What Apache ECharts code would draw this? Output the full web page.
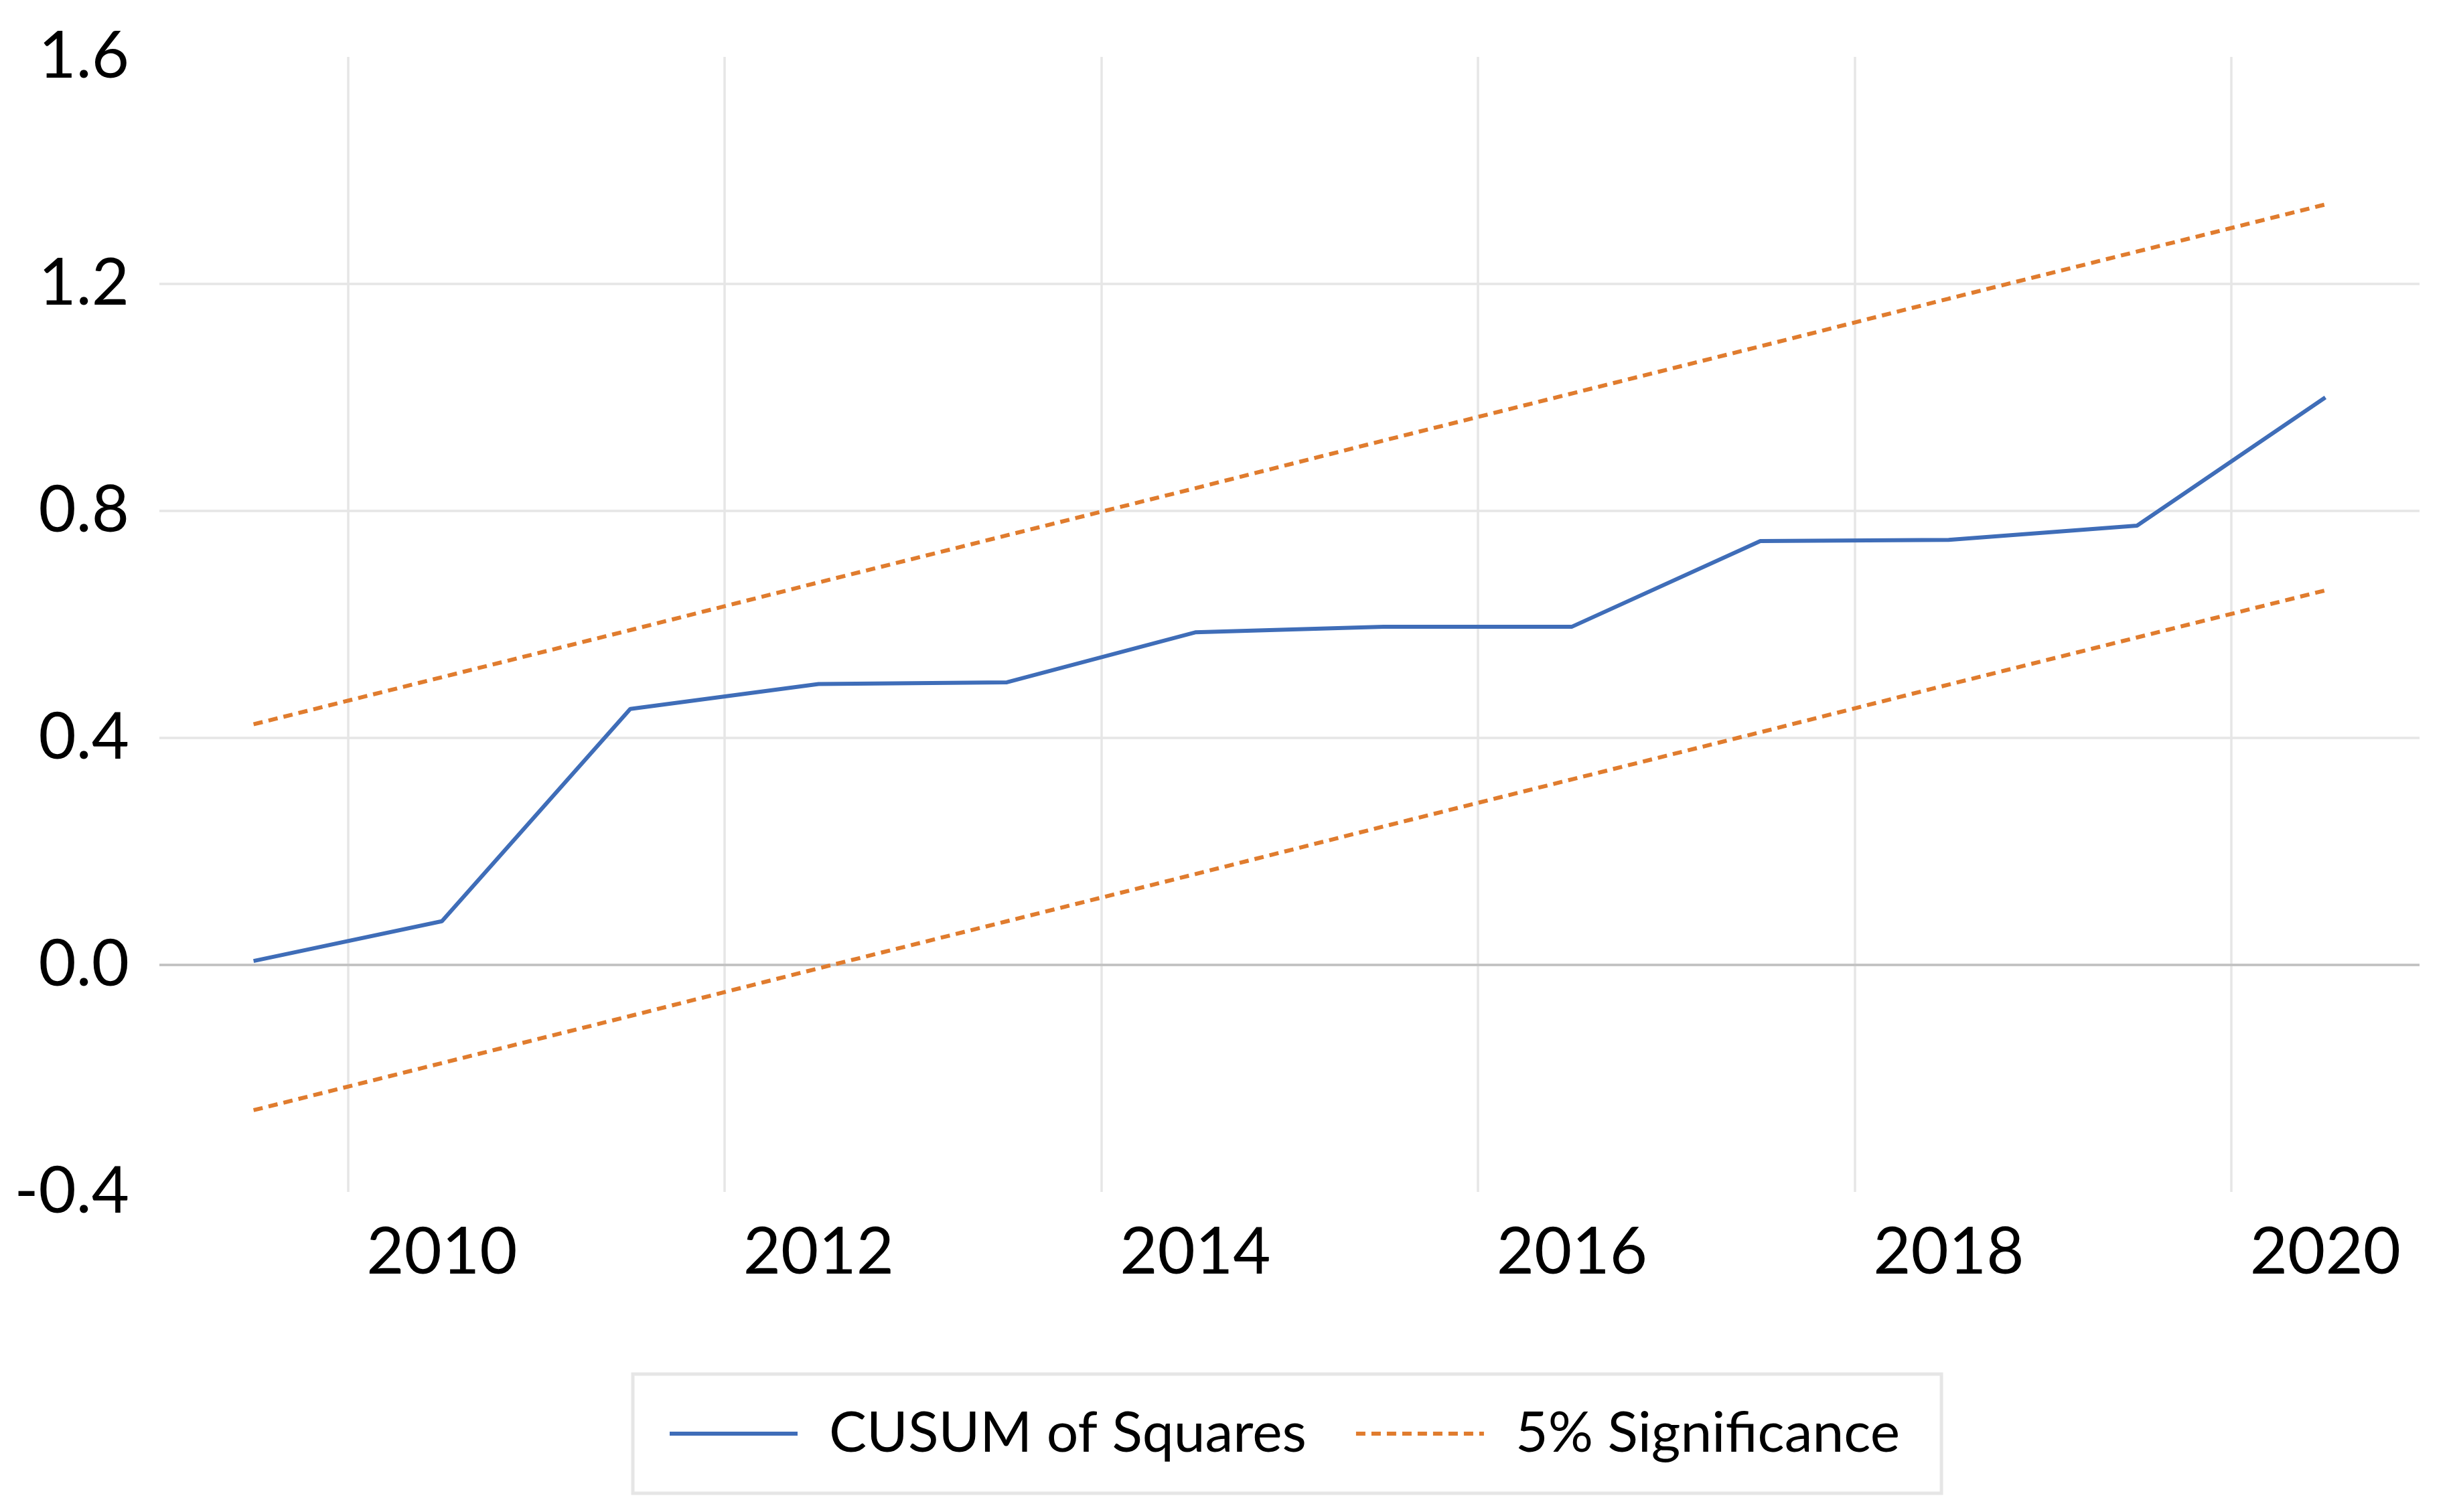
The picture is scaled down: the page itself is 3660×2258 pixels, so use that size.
<!DOCTYPE html>
<html>
<head>
<meta charset="utf-8">
<script src="https://cdn.jsdelivr.net/npm/echarts@6/dist/echarts.min.js"></script>
<style>
html,body{margin:0;padding:0;background:#fff;}
#chart{width:3660px;height:2258px;}
</style>
</head>
<body>
<div id="chart"></div>
<script>
const years = ['2009','2010','2011','2012','2013','2014','2015','2016','2017','2018','2019','2020'];
const cusumSquares = [0.007, 0.077, 0.451, 0.495, 0.498, 0.586, 0.596, 0.596, 0.747, 0.749, 0.774, 1.0];
const upperBound = [0.424, 0.507, 0.590, 0.674, 0.757, 0.840, 0.924, 1.007, 1.090, 1.174, 1.257, 1.340];
const lowerBound = [-0.256, -0.173, -0.090, -0.006, 0.077, 0.160, 0.244, 0.327, 0.410, 0.494, 0.577, 0.660];
const seriesNames = ['CUSUM of Squares', '5% Significance'];

const FONT = 'Lato';
const BLUE = '#3F6DB8';
const ORANGE = '#E07C2E';

const chart = echarts.init(document.getElementById('chart'));
const oddBoundary = function (index) { return index % 2 === 1; };

chart.setOption({
  animation: false,
  backgroundColor: '#ffffff',
  textStyle: { fontFamily: FONT },
  grid: { left: 238, right: 47, top: 85, bottom: 478, containLabel: false },
  xAxis: {
    type: 'category',
    data: years,
    boundaryGap: true,
    axisLine: { show: false, onZero: false },
    axisTick: { show: false },
    axisLabel: {
      interval: oddBoundary,
      color: '#000',
      fontFamily: FONT,
      fontSize: 97,
      margin: 42
    },
    splitLine: {
      show: true,
      interval: oddBoundary,
      showMaxLine: false,
      lineStyle: { color: '#e6e6e6', width: 3.5 }
    }
  },
  yAxis: {
    type: 'value',
    min: -0.4,
    max: 1.6,
    interval: 0.4,
    axisLine: { show: false },
    axisTick: { show: false },
    axisLabel: {
      color: '#000',
      fontFamily: FONT,
      fontSize: 97,
      margin: 45,
      formatter: function (v) { return v.toFixed(1); }
    },
    splitLine: {
      show: true,
      showMinLine: false,
      showMaxLine: false,
      lineStyle: { color: '#e6e6e6', width: 3.5 }
    }
  },
  legend: {
    data: seriesNames,
    left: 945,
    top: 2052,
    orient: 'horizontal',
    padding: [39, 62, 39, 52],
    itemGap: 71,
    itemWidth: 191,
    itemHeight: 24,
    borderColor: '#e6e6e6',
    borderWidth: 5,
    itemStyle: { opacity: 0 },
    lineStyle: { width: 6 },
    textStyle: {
      color: '#000',
      fontFamily: FONT,
      fontSize: 84,
      lineHeight: 100,
      padding: [0, 0, 0, 42]
    }
  },
  series: [
    {
      name: seriesNames[0],
      type: 'line',
      data: cusumSquares,
      symbol: 'none',
      lineStyle: { color: BLUE, width: 6 },
      itemStyle: { color: BLUE },
      z: 3,
      markLine: {
        silent: true,
        symbol: 'none',
        label: { show: false },
        lineStyle: { color: '#c0c0c0', width: 3.5, type: 'solid' },
        data: [{ yAxis: 0 }],
        z: 1
      }
    },
    {
      name: seriesNames[1],
      type: 'line',
      data: upperBound,
      symbol: 'none',
      lineStyle: { color: ORANGE, width: 6, type: [14, 9] },
      itemStyle: { color: ORANGE },
      z: 2
    },
    {
      name: seriesNames[1],
      type: 'line',
      data: lowerBound,
      symbol: 'none',
      lineStyle: { color: ORANGE, width: 6, type: [14, 9] },
      itemStyle: { color: ORANGE },
      z: 2
    }
  ]
});
</script>
</body>
</html>
